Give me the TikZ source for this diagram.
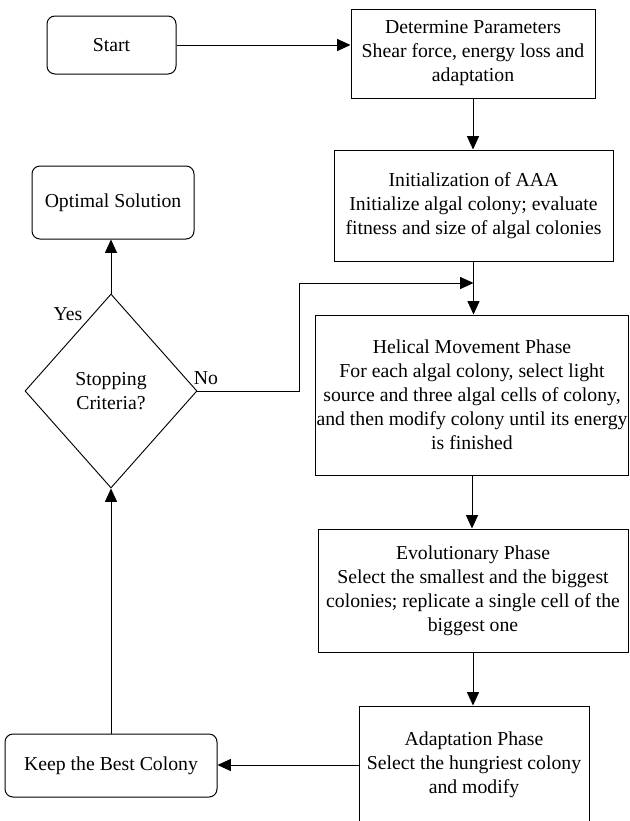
\documentclass[tikz,border=0pt]{standalone}
\usepackage{fontspec}
\setmainfont{Liberation Serif}
\usetikzlibrary{shapes.geometric,arrows.meta}
\begin{document}
\begin{tikzpicture}[x=0.75pt,y=-0.75pt,
  box/.style={draw, line width=0.75pt, rectangle, align=center, inner sep=1pt},
  rbox/.style={draw, line width=0.75pt, rounded corners=6pt, align=center, inner sep=1pt},
  dec/.style={draw, line width=0.7pt, diamond, align=center, inner sep=0pt, aspect=0.887},
  arr/.style={line width=0.65pt, -{Triangle[length=10pt,width=9pt]}},
  lbl/.style={inner sep=0pt},
  every node/.append style={font=\fontsize{14.8}{18}\selectfont}]
\useasboundingbox (0,0) rectangle (629,821);
\clip (0,0) rectangle (629,821);
\node[rbox, minimum width=96.75pt, minimum height=43.5pt] (start) at (111.5,45) {Start};
\node[box, minimum width=183pt, minimum height=66.75pt] (dp) at (473,53.5) {Determine Parameters\\Shear force, energy loss and\\adaptation};
\node[box, minimum width=209.25pt, minimum height=83.25pt] (init) at (473.5,205.5) {Initialization of AAA\\Initialize algal colony; evaluate\\fitness and size of algal colonies};
\node[rbox, minimum width=121.5pt, minimum height=54.75pt] (os) at (113,202.5) {Optimal Solution};
\node[dec, minimum width=129pt, minimum height=145.5pt] (dec) at (111,391) {Stopping\\Criteria?};
\node[box, minimum width=234pt, minimum height=120pt] (hel) at (472,395) {Helical Movement Phase\\For each algal colony, select light\\source and three algal cells of colony,\\and then modify colony until its energy\\is finished};
\node[box, minimum width=232.5pt, minimum height=92.25pt] (evo) at (473,590.5) {Evolutionary Phase\\Select the smallest and the biggest\\colonies; replicate a single cell of the\\biggest one};
\node[box, minimum width=172.5pt, minimum height=88.5pt] (ada) at (474,765) {Adaptation Phase\\Select the hungriest colony\\and modify};
\node[rbox, minimum width=159pt, minimum height=47.25pt] (keep) at (111,765.5) {Keep the Best Colony};
\node[lbl] (yes) at (68,314) {Yes};
\node[lbl] (no) at (206,378) {No};
\coordinate (nc) at (299,283);
\coordinate (j) at (473.5,283);
\draw[arr] (start.east) -- (start.east -| dp.west);
\draw[arr] (dp.south) -- (dp.south |- init.north);
\draw[arr] (init.south) -- (init.south |- hel.north);
\draw[arr] (dec.east) -| (nc) -- (j);
\draw[arr] (hel.south) -- (hel.south |- evo.north);
\draw[arr] (evo.south) -- (evo.south |- ada.north);
\draw[arr] (ada.west) -- (ada.west -| keep.east);
\draw[arr] (keep.north) -- (dec.south);
\draw[arr] (dec.north) -- (dec.north |- os.south);
\end{tikzpicture}
\end{document}
